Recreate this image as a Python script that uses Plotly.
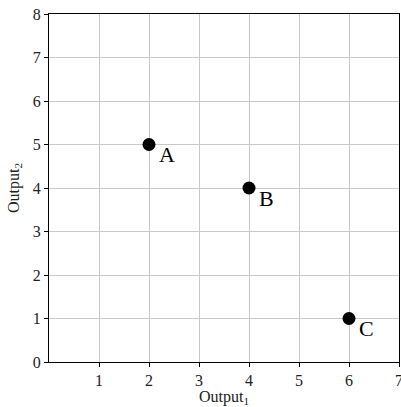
import plotly.graph_objects as go

labels = ["A", "B", "C"]
x_vals = [2, 4, 6]
y_vals = [5, 4, 1]
x_ticks = [1, 2, 3, 4, 5, 6, 7]
y_ticks = [0, 1, 2, 3, 4, 5, 6, 7, 8]

font_family = "Liberation Serif"

fig = go.Figure()
fig.add_trace(go.Scatter(
    x=x_vals, y=y_vals, mode="markers",
    marker=dict(size=13, color="black"),
    showlegend=False, hoverinfo="skip",
))
for lab, xv, yv in zip(labels, x_vals, y_vals):
    fig.add_annotation(x=xv, y=yv, text=lab, showarrow=False,
                       xanchor="left", yanchor="middle", xshift=8, yshift=-10,
                       font=dict(size=22, color="black", family=font_family))

axis_common = dict(
    showgrid=True, gridcolor="#c8c8c8", gridwidth=1,
    showline=True, linecolor="black", linewidth=1, mirror=True,
    ticks="outside", ticklen=4, tickcolor="black",
    zeroline=False, automargin=False, ticklabeloverflow="allow",
    tickfont=dict(size=16, color="#222", family=font_family),
)
fig.update_xaxes(range=[0, 7], tickvals=x_ticks, ticktext=[str(v) for v in x_ticks],
                 title=dict(text="Output<sub>1</sub>", font=dict(size=16, color="#222", family=font_family), standoff=2),
                 **axis_common)
fig.update_yaxes(range=[0, 8], tickvals=y_ticks, ticktext=[str(v) for v in y_ticks],
                 title=dict(text="Output<sub>2</sub>", font=dict(size=16, color="#222", family=font_family), standoff=9),
                 **axis_common)
fig.update_layout(
    width=401, height=407,
    margin=dict(l=49, r=2, t=14, b=45),
    font=dict(family=font_family, size=16, color="#222"),
    plot_bgcolor="white", paper_bgcolor="white",
)
fig.write_html("out.html", config={"displayModeBar": False},
               post_script="document.body.style.margin='0';document.body.style.padding='0';")
